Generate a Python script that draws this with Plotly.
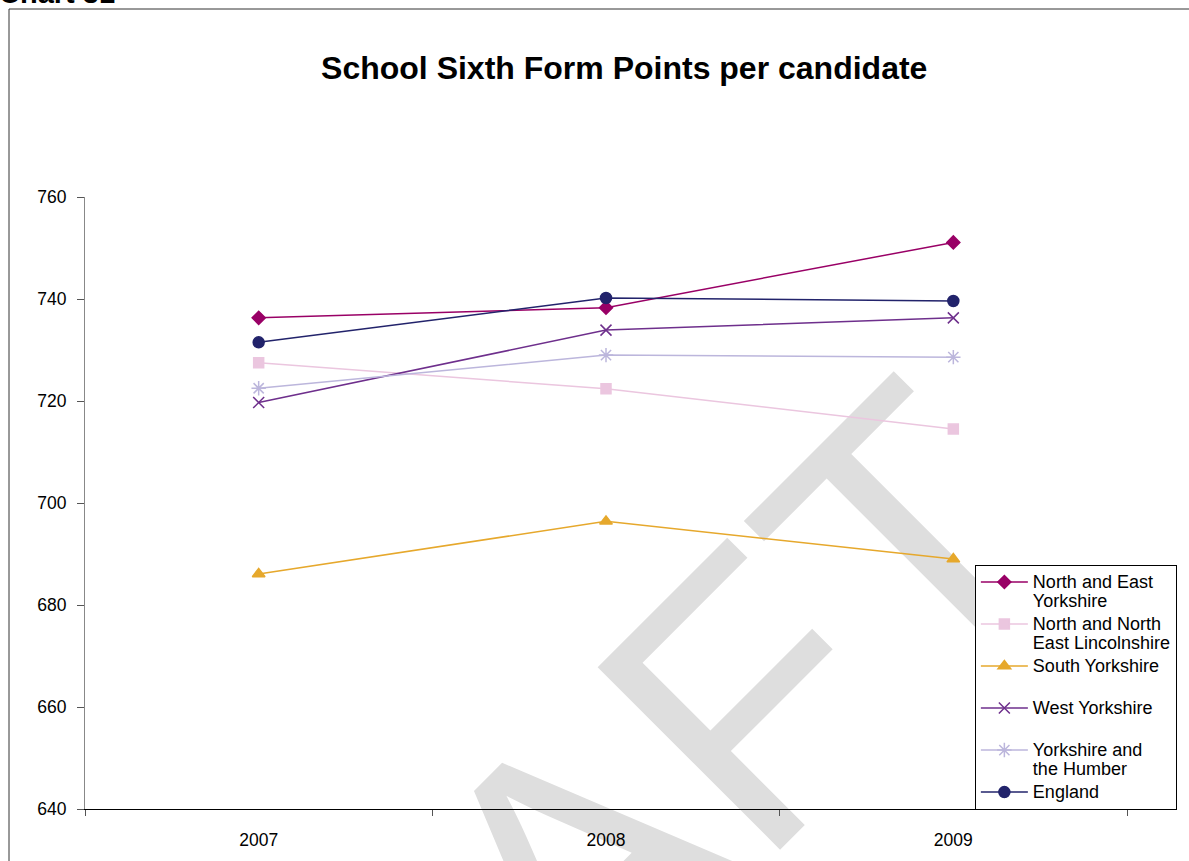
import plotly.graph_objects as go

# ---- data ----
years = ["2007", "2008", "2009"]
series_names = [
    "North and East Yorkshire",
    "North and North East Lincolnshire",
    "South Yorkshire",
    "West Yorkshire",
    "Yorkshire and the Humber",
    "England",
]
legend_labels = [
    "North and East<br>Yorkshire",
    "North and North<br>East Lincolnshire",
    "South Yorkshire<br>\u00a0",
    "West Yorkshire<br>\u00a0",
    "Yorkshire and<br>the Humber",
    "England",
]
north_east_yorkshire = [736.3, 738.3, 751.1]
north_ne_lincolnshire = [727.5, 722.4, 714.5]
south_yorkshire = [686.1, 696.4, 689.0]
west_yorkshire = [719.7, 733.9, 736.3]
yorkshire_humber = [722.5, 729.0, 728.6]
england = [731.5, 740.2, 739.6]
y_ticks = [640, 660, 680, 700, 720, 740, 760]

values = [north_east_yorkshire, north_ne_lincolnshire, south_yorkshire,
          west_yorkshire, yorkshire_humber, england]

colors = ["#990066", "#EBC6DF", "#E6A82C", "#6E2F8C", "#BCB6DC", "#22236B"]
symbols = ["diamond", "square", "triangle-up", "x-thin-open", "asterisk-open", "circle"]
sizes = [10, 10, 11, 11, 12, 11]

FONT = "Liberation Sans, Arial, sans-serif"

fig = go.Figure()
for name, lab, vals, c, s, sz in zip(series_names, legend_labels, values, colors, symbols, sizes):
    fig.add_trace(go.Scatter(
        x=years, y=vals, mode="lines+markers",
        name='<span style="font-size:18px">' + lab + '</span>',
        line=dict(color=c, width=1.5),
        marker=dict(symbol=s, size=sz, color=c, line=dict(color=c, width=1.5)),
    ))

fig.update_layout(
    width=1189, height=861,
    margin=dict(l=85, r=62, t=197, b=52),
    paper_bgcolor="white", plot_bgcolor="white",
    font=dict(family=FONT, color="black", size=17),
    title=dict(text="School Sixth Form Points per candidate",
               font=dict(family=FONT, size=32, color="black", weight="bold"),
               x=0.525, xanchor="center", xref="container",
               y=1 - 68 / 861, yanchor="middle", yref="container"),
    showlegend=True,
    legend=dict(x=0.854, y=0.399, xanchor="left", yanchor="top",
                bgcolor="white", bordercolor="#000000", borderwidth=1,
                font=dict(family=FONT, size=15, color="black"),
                valign="top", itemwidth=47, traceorder="normal",
                tracegroupgap=0),
    xaxis=dict(type="category", categoryorder="array", categoryarray=years,
               range=[-0.5, 2.5], tickson="boundaries", ticks="outside",
               ticklen=6, tickcolor="#555555", showline=True, linecolor="#000000",
               linewidth=1, showgrid=False, zeroline=False, automargin=False,
               ticklabelstandoff=15,
               tickfont=dict(size=17.5, family=FONT, color="black")),
    yaxis=dict(range=[640, 760], tickvals=y_ticks, ticks="outside", ticklen=7,
               tickcolor="#555555", showline=True, linecolor="#888888", linewidth=1,
               showgrid=False, zeroline=False, automargin=False,
               ticklabelstandoff=7,
               tickfont=dict(size=17.5, family=FONT, color="black")),
)

# outer chart border
fig.add_shape(type="rect", xref="paper", yref="paper",
              x0=(9 - 85) / 1042, x1=1.3, y0=-0.3, y1=(809 - 9) / 612,
              line=dict(color="#333333", width=1), fillcolor="rgba(0,0,0,0)",
              layer="above")

# DRAFT watermark, drawn beneath the data
cx, cy = (523 - 85) / 1042, (809 - 872) / 612
fig.add_shape(type="rect", xref="paper", yref="paper",
              x0=cx - 0.01, x1=cx + 0.01, y0=cy - 0.01, y1=cy + 0.01,
              line=dict(width=0), fillcolor="rgba(0,0,0,0)", layer="below",
              label=dict(text="DRAFT", textangle=-45, textposition="middle center",
                         xanchor="center", yanchor="middle",
                         font=dict(family=FONT, size=375, color="#DEDEDE")))

# clipped "Chart 31" caption at top-left
fig.add_annotation(text="<b>Chart 31</b>", xref="paper", yref="paper",
                   x=(-3 - 85) / 1042, y=(809 - 11) / 612, xanchor="left", yanchor="bottom",
                   showarrow=False, font=dict(family=FONT, size=29, color="black"))

fig.write_html("out.html", config={"displayModeBar": False},
               post_script="document.body.style.margin='0';")
